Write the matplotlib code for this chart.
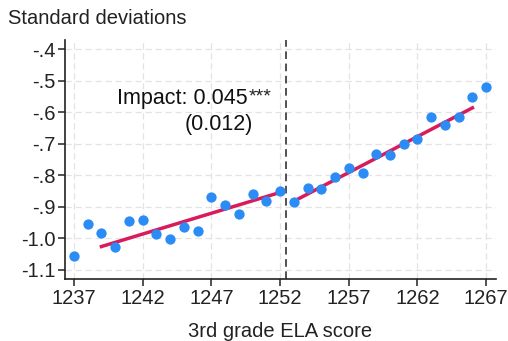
import numpy as np
import matplotlib.pyplot as plt

plt.rcParams['font.family'] = ['Liberation Sans', 'DejaVu Sans']

scores = np.arange(1237, 1268)
means = [-1.057, -0.954, -0.983, -1.029, -0.946, -0.944, -0.987, -1.004, -0.965, -0.978,
         -0.868, -0.895, -0.923, -0.861, -0.881, -0.851,
         -0.885, -0.842, -0.844, -0.806, -0.778, -0.793, -0.732, -0.737, -0.702, -0.685,
         -0.616, -0.641, -0.615, -0.551, -0.520]

fit_left_x = [1239, 1252]
fit_left_y = [-1.027, -0.855]
fit_right_x = [1253, 1266]
fit_right_y = [-0.883, -0.586]
cutoff = 1252.4

yticks = [-0.4, -0.5, -0.6, -0.7, -0.8, -0.9, -1.0, -1.1]
ytick_labels = ['-.4', '-.5', '-.6', '-.7', '-.8', '-.9', '-1.0', '-1.1']
xticks = [1237, 1242, 1247, 1252, 1257, 1262, 1267]

fig = plt.figure(figsize=(5.08, 3.41), dpi=100)
ax = fig.add_axes([0.128, 0.182, 0.848, 0.701])

ax.grid(True, color='#e3e3e3', linestyle=(0, (5, 3)), linewidth=0.9)
ax.set_axisbelow(True)
ax.axvline(cutoff, color='#222222', linestyle=(0, (5, 3)), linewidth=1.1)

ax.plot(fit_left_x, fit_left_y, color='#d81b5a', linewidth=2.5, zorder=3)
ax.plot(fit_right_x, fit_right_y, color='#d81b5a', linewidth=2.5, zorder=3)
ax.scatter(scores, means, s=55, color='#2b8cf5', zorder=4, linewidths=0)

ax.set_xlim(1236.35, 1267.7)
ax.set_ylim(-1.13, -0.37)
ax.set_yticks(yticks)
ax.set_yticklabels(ytick_labels)
ax.set_xticks(xticks)

for s in ['top', 'right']:
    ax.spines[s].set_visible(False)
for s in ['left', 'bottom']:
    ax.spines[s].set_color('#222222')
    ax.spines[s].set_linewidth(1.2)
ax.tick_params(labelsize=14.5, length=5, width=1.1, colors='#222222', pad=2)

# annotation with superscript stars
t = ax.text(1240.1, -0.555, 'Impact: 0.045', ha='left', va='center', fontsize=15.5, color='#111111')
fig.canvas.draw()
bb = t.get_window_extent()
fig.text(bb.x1 + 1, bb.y1 - 9, '***', fontsize=14, color='#222222', ha='left', va='center',
         transform=None)
ax.text(1250.05, -0.638, '(0.012)', ha='right', va='center', fontsize=15.5, color='#111111')

fig.text(0.016, 0.945, 'Standard deviations', fontsize=14.5, color='#222222', va='center')
fig.text(0.551, 0.027, '3rd grade ELA score', fontsize=14.5, color='#222222', ha='center', va='center')

fig.savefig('out.png', dpi=100)
